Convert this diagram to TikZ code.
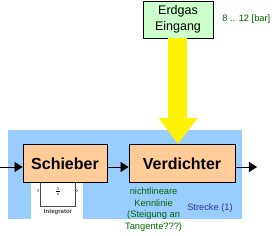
\documentclass[tikz,border=0pt]{standalone}
\usepackage{fontspec}
\setmainfont{Liberation Sans}
\usetikzlibrary{positioning}
\usetikzlibrary{arrows.meta}
\definecolor{streckeblau}{HTML}{99CCFF}
\definecolor{blockorange}{HTML}{FFCC99}
\definecolor{gasgruen}{HTML}{CCFFCC}
\definecolor{textgruen}{HTML}{006600}
\definecolor{textblau}{HTML}{333399}

\begin{document}
\begin{tikzpicture}[x=1pt, y=-1pt,
    block/.style={draw, thick, fill=blockorange, minimum height=38pt, inner sep=0pt,
        font=\fontsize{16}{18}\selectfont\bfseries},
    note/.style={inner sep=0pt, align=center, font=\fontsize{9.3}{11.5}\selectfont},
    sig/.style={-{Triangle[width=10pt,length=8pt]}},
]
\useasboundingbox (0,0) rectangle (274,236);

% plant background
\node[fill=streckeblau, minimum width=234pt, minimum height=89pt, inner sep=0pt] (strecke) at (125,174.5) {};
\node[fill=white, minimum width=52pt, minimum height=38pt, inner sep=0pt] (patch) at (57,201) {};

% integrator
\node[draw=gray!60!black, minimum width=35pt, minimum height=31pt, inner sep=0pt] (integ) at (58,190.5) {};
\node[inner sep=0pt, font=\fontsize{7}{8}\selectfont] (bruch) at (58,191) {$\frac{1}{s}$};
\node[inner sep=0pt, font=\fontsize{6}{7}\selectfont\bfseries, text=gray!50!black] (integlabel) at (58,212.5) {Integrator};
\draw[gray!60!black, line width=0.4pt] ([xshift=-3pt,yshift=1.5pt]integ.west) -- ++(1.5,1.5) -- ++(-1.5,1.5);
\draw[gray!60!black, line width=0.4pt] ([xshift=0.5pt,yshift=1.5pt]integ.east) -- ++(1.5,1.5) -- ++(-1.5,1.5);

% blocks
\node[block, minimum width=84pt] (schieber) at (65,163.5) {Schieber};
\node[block, minimum width=106pt] (verdichter) at (182,163.5) {Verdichter};

% gas inlet
\node[draw, fill=gasgruen, minimum width=70pt, minimum height=37pt, inner sep=0pt, align=center,
    font=\fontsize{12.5}{15.5}\selectfont] (erdgas) at (178,19.5) {Erdgas\\Eingang};
\node[right=9pt of erdgas, inner sep=0pt, text=textgruen, font=\fontsize{9.3}{11}\selectfont] (druck) {8 .. 12 [bar]};
\draw[yellow, line width=19pt, -{Triangle[width=37pt,length=26pt]}] (erdgas.south) -- (erdgas.south |- verdichter.north);

% signal lines
\coordinate (ein) at (0,167);
\coordinate (aus) at (257,167);
\draw[sig] (ein) -- (ein -| schieber.west);
\draw[sig] (ein -| schieber.east) -- (ein -| verdichter.west);
\draw[sig] (ein -| verdichter.east) -- (aus);

% notes
\node[note, text=textgruen, below=5pt of verdichter.south west, xshift=25pt, anchor=north] (kennlinie)
    {nichtlineare\\Kennlinie\\(Steigung an\\Tangente???)};
\node[note, text=textblau] (streckelabel) at (210,208) {Strecke (1)};

\end{tikzpicture}
\end{document}
